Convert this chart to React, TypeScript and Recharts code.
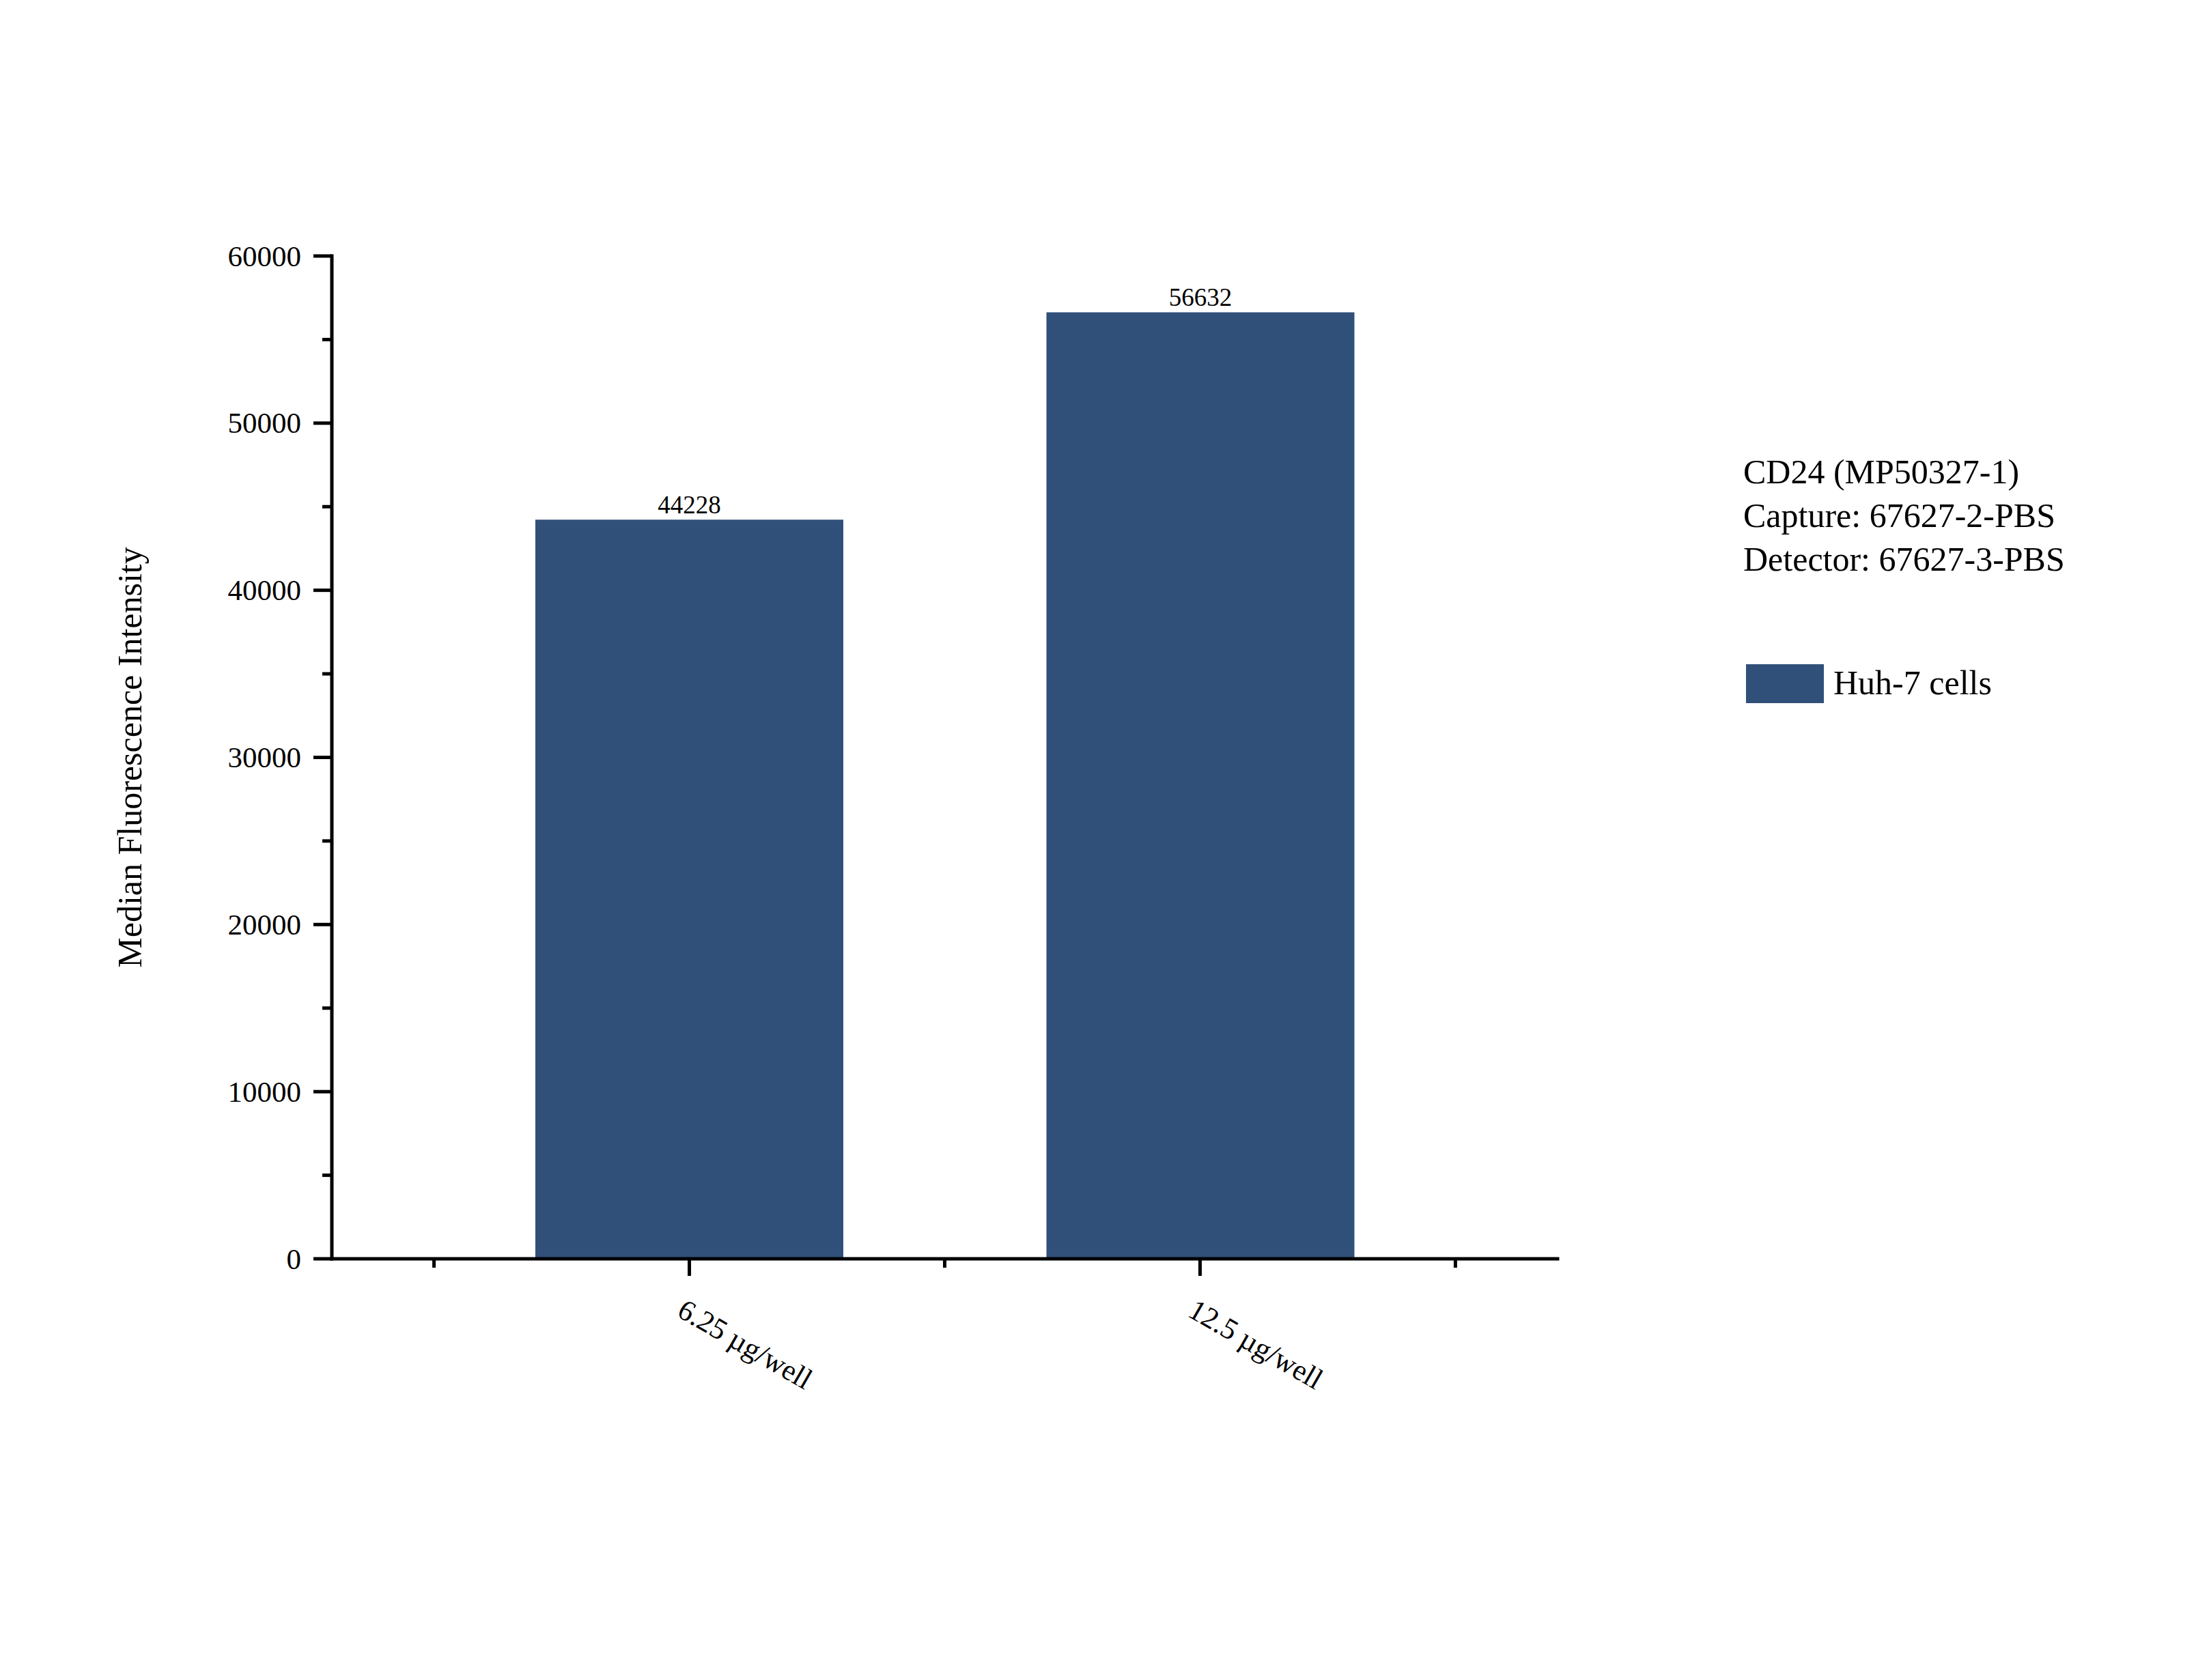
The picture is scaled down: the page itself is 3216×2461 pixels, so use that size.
import { Bar, BarChart, LabelList, Legend, XAxis, YAxis } from "recharts";

const categories = ["6.25 µg/well", "12.5 µg/well"];
const positions = [1, 2];
const huh7Values = [44228, 56632];
const xTickValues = [0.5, 1, 1.5, 2, 2.5];
const yTickValues = [0, 5000, 10000, 15000, 20000, 25000, 30000, 35000, 40000, 45000, 50000, 55000, 60000];
const yLabelValues = [0, 10000, 20000, 30000, 40000, 50000, 60000];
const legendTitle = ["CD24 (MP50327-1)", "Capture: 67627-2-PBS", "Detector: 67627-3-PBS"];
const seriesName = "Huh-7 cells";
const yLabel = "Median Fluorescence Intensity";

const data = categories.map((name, i) => ({ name, x: positions[i], value: huh7Values[i] }));

const FONT = "'Liberation Serif', 'Times New Roman', serif";
const BAR_COLOR = "#30507a";

function XTick({ x, y, payload }: any) {
  const v = payload.value;
  const major = Number.isInteger(v);
  const label = major ? categories[positions.indexOf(v)] : null;
  const tx = x - 20;
  const ty = y + 83;
  return (
    <g>
      <line x1={x} x2={x} y1={y} y2={y + (major ? 25 : 13)} stroke="#000" strokeWidth={5} />
      {label && (
        <text x={tx} y={ty} transform={`rotate(30, ${tx}, ${ty})`} fontSize={43} fontFamily={FONT} fill="#000">
          {label}
        </text>
      )}
    </g>
  );
}

function YTick({ x, y, payload }: any) {
  const major = yLabelValues.includes(payload.value);
  return (
    <g>
      <line x1={x - (major ? 27 : 14)} x2={x} y1={y} y2={y} stroke="#000" strokeWidth={5} />
      {major && (
        <text x={x - 45} y={y} textAnchor="end" dominantBaseline="central" fontSize={43} fontFamily={FONT} fill="#000">
          {payload.value}
        </text>
      )}
    </g>
  );
}

function YLabel({ viewBox }: any) {
  const cy = viewBox.y + viewBox.height / 2;
  return (
    <text x={207} y={cy} transform={`rotate(-90, 207, ${cy})`} textAnchor="middle" fontSize={50} fontFamily={FONT} fill="#000">
      {yLabel}
    </text>
  );
}

function LegendBox({ payload }: any) {
  const item = payload && payload[0];
  return (
    <div style={{ fontFamily: FONT, fontSize: 50, lineHeight: "64px", color: "#000", whiteSpace: "nowrap" }}>
      {legendTitle.map((t) => (
        <div key={t}>{t}</div>
      ))}
      <div style={{ position: "relative", marginTop: 117, height: 64, paddingLeft: 132 }}>
        <span
          style={{ position: "absolute", left: 4, top: 5, width: 114, height: 57, background: item ? item.color : BAR_COLOR }}
        />
        {item ? item.value : seriesName}
      </div>
    </div>
  );
}

export default function App() {
  return (
    <div style={{ position: "absolute", left: 0, top: 0, width: 3216, height: 2461, background: "#fff" }}>
      <BarChart
        width={3216}
        height={2461}
        data={data}
        margin={{ top: 375, right: 935, bottom: 417, left: 306 }}
        style={{ fontFamily: FONT }}
      >
        <XAxis xAxisId="cat" dataKey="name" type="category" hide height={0} padding={{ left: 149, right: 149 }} />
        <XAxis
          xAxisId="num"
          dataKey="x"
          type="number"
          domain={[0.3, 2.7]}
          ticks={xTickValues}
          allowDataOverflow
          height={200}
          tickSize={0}
          tickMargin={0}
          tickLine={false}
          tick={<XTick />}
          axisLine={{ stroke: "#000", strokeWidth: 5, strokeLinecap: "square" }}
          interval={0}
        />
        <YAxis
          type="number"
          domain={[0, 60000]}
          ticks={yTickValues}
          width={180}
          tickSize={0}
          tickMargin={0}
          tickLine={false}
          tick={<YTick />}
          interval={0}
          axisLine={{ stroke: "#000", strokeWidth: 5, strokeLinecap: "square" }}
          label={{ content: (p: any) => <YLabel {...p} /> }}
        />
        <Legend
          layout="vertical"
          align="center"
          verticalAlign="middle"
          wrapperStyle={{ left: 2553, top: 659, width: 640, height: "auto" }}
          content={(p: any) => <LegendBox {...p} />}
        />
        <Bar xAxisId="cat" dataKey="value" name={seriesName} fill={BAR_COLOR} barSize={451} isAnimationActive={false}>
          <LabelList dataKey="value" position="top" offset={9} fill="#000" fontSize={37} fontFamily={FONT} />
        </Bar>
      </BarChart>
    </div>
  );
}
